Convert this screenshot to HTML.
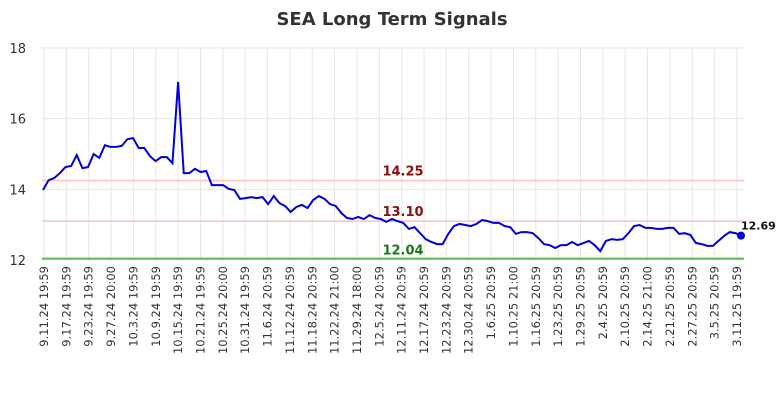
<!DOCTYPE html>
<html><head><meta charset="utf-8"><style>
body{margin:0;background:#fff;font-family:"Liberation Sans",sans-serif}
svg text{font-family:"DejaVu Sans","Liberation Sans",sans-serif}
</style></head><body>
<svg width="784" height="400" id="chart">
<text x="392" y="25" text-anchor="middle" font-size="18" font-weight="bold" fill="#333">SEA Long Term Signals</text>
<g id="grid"></g>
<g id="refs"></g>
<g id="series"></g>
<g id="axes"></g>
</svg>
<script>
const xLabels=["9.11.24 19:59","9.17.24 19:59","9.23.24 19:59","9.27.24 20:00","10.3.24 19:59","10.9.24 19:59","10.15.24 19:59","10.21.24 19:59","10.25.24 20:00","10.31.24 19:59","11.6.24 20:59","11.12.24 20:59","11.18.24 20:59","11.22.24 21:00","11.29.24 18:00","12.5.24 20:59","12.11.24 20:59","12.17.24 20:59","12.23.24 20:59","12.30.24 20:59","1.6.25 20:59","1.10.25 21:00","1.16.25 20:59","1.23.25 20:59","1.29.25 20:59","2.4.25 20:59","2.10.25 20:59","2.14.25 21:00","2.21.25 20:59","2.27.25 20:59","3.5.25 20:59","3.11.25 19:59"];
const yTicks=[12,14,16,18];
const prices=[13.98,14.26,14.32,14.46,14.63,14.66,14.97,14.60,14.63,15.00,14.89,15.25,15.20,15.20,15.23,15.42,15.45,15.17,15.17,14.94,14.80,14.91,14.91,14.74,17.04,14.46,14.46,14.58,14.49,14.52,14.12,14.12,14.12,14.01,13.98,13.73,13.75,13.78,13.75,13.78,13.58,13.81,13.61,13.53,13.36,13.50,13.56,13.47,13.70,13.81,13.73,13.58,13.53,13.33,13.19,13.16,13.22,13.16,13.27,13.19,13.16,13.08,13.16,13.10,13.05,12.88,12.93,12.76,12.59,12.51,12.45,12.45,12.74,12.96,13.02,12.99,12.96,13.02,13.13,13.10,13.05,13.05,12.96,12.93,12.74,12.79,12.79,12.76,12.62,12.45,12.42,12.34,12.42,12.42,12.51,12.42,12.48,12.54,12.42,12.25,12.54,12.59,12.57,12.59,12.76,12.96,12.99,12.91,12.91,12.88,12.88,12.91,12.91,12.74,12.76,12.71,12.48,12.45,12.40,12.40,12.54,12.68,12.79,12.76,12.69];
const refValues=[14.25,13.10,12.04];
const refLabels=["14.25","13.10","12.04"];
const refKinds=["resistance","resistance","support"];
const NS="http://www.w3.org/2000/svg";
const X0=43,X1=741,L0=44,L1=737;
function y(v){return 260-(v-12)*(212/6);}
function xi(i){return X0+(X1-X0)*i/(prices.length-1);}
function xl(i){return L0+(L1-L0)*i/(xLabels.length-1);}
function mk(t,a,p){const e=document.createElementNS(NS,t);for(const k in a)e.setAttribute(k,a[k]);p.appendChild(e);return e;}
const grid=document.getElementById('grid'),axes=document.getElementById('axes'),refs=document.getElementById('refs'),ser=document.getElementById('series');
xLabels.forEach((s,i)=>{
 const g=mk('line',{x1:xl(i),x2:xl(i),y1:48,y2:260,stroke:'#e6e6e6'},grid);
 
 
 const t=mk('text',{x:0,y:0,'font-size':11.5,fill:'#333','text-anchor':'end',transform:`translate(${xl(i)+4},266) rotate(-90)`},axes);
 t.textContent=s;
 
 
});
yTicks.forEach(v=>{
 const g=mk('line',{x1:42,x2:744,y1:y(v),y2:y(v),stroke:'#e6e6e6'},grid);
 
 
 const t=mk('text',{x:26,y:y(v)+5,'font-size':13,fill:'#333','text-anchor':'end'},axes);
 t.textContent=v;
 
 
});
refValues.forEach((v,i)=>{
 const sup=refKinds[i]==='support';
 const l=mk('line',{x1:42,x2:744,y1:y(v),y2:y(v),stroke:sup?'#5cb85c':'#ffc0c0','stroke-width':sup?2:1.5},refs);
 
 
 const t=mk('text',{x:403,y:y(v)-(sup?4:5),'font-size':13,'font-weight':'bold',fill:sup?'#1a7a1a':'#8b1010','text-anchor':'middle'},refs);
 t.textContent=refLabels[i];
 
 
});
const pl=mk('polyline',{points:prices.map((v,i)=>xi(i)+','+y(v)).join(' '),fill:'none',stroke:'#0000dd','stroke-width':2},ser);


const n=prices.length-1;
const dot=mk('circle',{cx:xi(n),cy:y(prices[n]),r:4,fill:'#0000dd'},ser);


const lt=mk('text',{x:xi(n)+0,y:y(prices[n])-6,'font-size':11,'font-weight':'bold',fill:'#111'},ser);
lt.textContent=prices[n].toFixed(2);


</script>
</body></html>
